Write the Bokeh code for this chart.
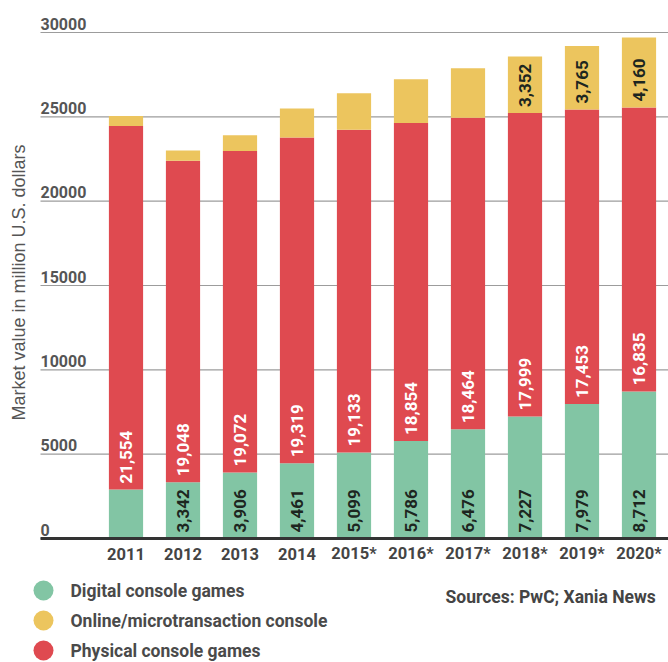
import math
from bokeh.plotting import figure
from bokeh.models import Range1d, ColumnDataSource
from bokeh.core.properties import value
from bokeh.embed import file_html
from bokeh.resources import INLINE

# ---------------- data ----------------
years = ["2011", "2012", "2013", "2014", "2015*", "2016*", "2017*", "2018*", "2019*", "2020*"]
digital = [2900, 3342, 3906, 4461, 5099, 5786, 6476, 7227, 7979, 8712]
physical = [21554, 19048, 19072, 19319, 19133, 18854, 18464, 17999, 17453, 16835]
online = [600, 620, 925, 1720, 2160, 2585, 2935, 3352, 3765, 4160]
digital_labels = ["", "3,342", "3,906", "4,461", "5,099", "5,786", "6,476", "7,227", "7,979", "8,712"]
physical_labels = ["21,554", "19,048", "19,072", "19,319", "19,133", "18,854", "18,464", "17,999", "17,453", "16,835"]
online_labels = ["", "", "", "", "", "", "", "3,352", "3,765", "4,160"]
y_ticks = [0, 5000, 10000, 15000, 20000, 25000, 30000]
y_title = "Market value in million U.S. dollars"
legend_labels = ["Digital console games", "Online/microtransaction console", "Physical console games"]
source_text = "Sources: PwC; Xania News"

GREEN = "#82c5a4"
YELLOW = "#ecc55e"
RED = "#df4a50"
legend_colors = [GREEN, YELLOW, RED]

# ---------------- layout (pixels) ----------------
W, H = 668, 662
PX_PER_CAT = 57.0
X0_PX = 125.5          # centre of first bar
Y0_PX = 538.0          # baseline
PX_PER_Y = 84.33 / 5000.0

x_start = -X0_PX / PX_PER_CAT
x_end = (W - X0_PX) / PX_PER_CAT
y_end = Y0_PX / PX_PER_Y
y_start = -(H - Y0_PX) / PX_PER_Y


def px_x(px):
    return x_start + px / PX_PER_CAT


def px_y(py):
    return (Y0_PX - py) / PX_PER_Y


idx = list(range(len(years)))
dig_top = digital
phys_top = [d + p for d, p in zip(digital, physical)]
onl_top = [t + o for t, o in zip(phys_top, online)]

src = ColumnDataSource(dict(
    x=idx, years=years,
    d0=[0] * len(idx), d1=dig_top, p1=phys_top, o1=onl_top,
    dl=digital_labels, pl=physical_labels, ol=online_labels,
))

p = figure(width=W, height=H, x_range=Range1d(x_start, x_end), y_range=Range1d(y_start, y_end),
           output_backend="svg", toolbar_location=None,
           x_axis_location=None, y_axis_location=None, min_border=0)
p.grid.visible = False
p.outline_line_color = None
p.background_fill_color = "white"
p.border_fill_color = "white"

FONT = value("Roboto")

# grid lines
gl = px_x(40)
p.segment(x0=[gl] * len(y_ticks), x1=[x_end] * len(y_ticks), y0=y_ticks, y1=y_ticks,
          line_color="#9c9c9c", line_width=1.2)

# bars
BW = 0.6
p.vbar(x="x", width=BW, bottom="d0", top="d1", source=src, fill_color=GREEN, line_color=None)
p.vbar(x="x", width=BW, bottom="d1", top="p1", source=src, fill_color=RED, line_color=None)
p.vbar(x="x", width=BW, bottom="p1", top="o1", source=src, fill_color=YELLOW, line_color=None)

# baseline
p.segment(x0=[gl], x1=[x_end], y0=[0], y1=[0], line_color="#333333", line_width=3)

# bar labels
lab_kw = dict(angle=math.pi / 2, text_align="left", text_baseline="middle", y_offset=-6,
              text_font=FONT, text_font_style="bold", text_font_size="17px", source=src)
p.text(x="x", y="d0", text="dl", text_color="#1d2620", **lab_kw)
p.text(x="x", y="d1", text="pl", text_color="white", **lab_kw)
p.text(x="x", y="p1", text="ol", text_color="#1d2620", **lab_kw)

# y tick labels
p.text(x=[gl] * len(y_ticks), y=y_ticks, text=[str(t) for t in y_ticks],
       text_align="left", text_baseline="bottom", y_offset=-3,
       text_font=FONT, text_font_style="bold", text_font_size="16px", text_color="#555555")

# x tick labels
p.text(x="x", y="d0", text="years", source=src, text_align="center", text_baseline="middle",
       y_offset=15, text_font=FONT, text_font_style="bold", text_font_size="16.5px",
       text_color="#444444")

# y title
p.text(x=[px_x(18)], y=[px_y(282)], text=[y_title], angle=math.pi / 2,
       text_align="center", text_baseline="middle",
       text_font=value("Liberation Sans"), text_font_size="18px", text_color="#555555")

# legend
leg_y = [px_y(590), px_y(620), px_y(650)]
p.scatter(x=[px_x(43)] * 3, y=leg_y, size=20, marker="circle", fill_color=legend_colors,
          line_color=None)
p.text(x=[px_x(70)] * 3, y=leg_y, text=legend_labels, text_align="left", text_baseline="middle",
       text_font=FONT, text_font_style="bold", text_font_size="17.5px", text_color="#4a4a4a")

p.text(x=[px_x(445)], y=[px_y(596)], text=[source_text], text_align="left", text_baseline="middle",
       text_font=FONT, text_font_style="bold", text_font_size="17.5px", text_color="#444444")

open("out.html", "w").write(file_html(p, INLINE))
